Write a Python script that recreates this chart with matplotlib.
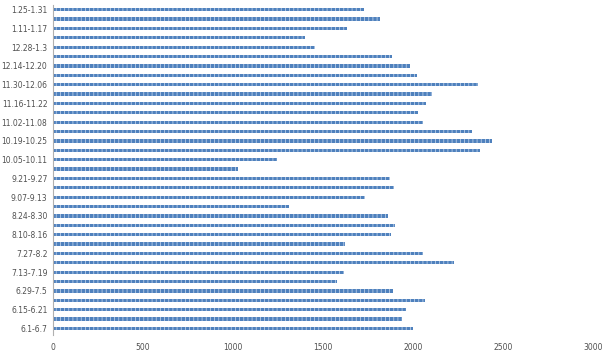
import matplotlib
matplotlib.use('Agg')
import matplotlib.pyplot as plt
import numpy as np

# weekly periods, bottom to top
weeks = ['6.1-6.7', '6.8-6.14', '6.15-6.21', '6.22-6.28', '6.29-7.5',
         '7.6-7.12', '7.13-7.19', '7.20-7.26', '7.27-8.2', '8.3-8.9',
         '8.10-8.16', '8.17-8.23', '8.24-8.30', '8.31-9.06', '9.07-9.13',
         '9.14-9.20', '9.21-9.27', '9.28-10.04', '10.05-10.11', '10.12-10.18',
         '10.19-10.25', '10.26-11.01', '11.02-11.08', '11.09-11.15', '11.16-11.22',
         '11.23-11.29', '11.30-12.06', '12.07-12.13', '12.14-12.20', '12.21-12.27',
         '12.28-1.3', '1.4-1.10', '1.11-1.17', '1.18-1.24', '1.25-1.31']

values = [2000, 1939, 1961, 2067, 1889,
          1577, 1616, 2228, 2056, 1621,
          1877, 1900, 1861, 1309, 1733,
          1894, 1872, 1025, 1242, 2373,
          2440, 2329, 2056, 2028, 2072,
          2106, 2360, 2022, 1983, 1883,
          1454, 1398, 1632, 1816, 1727]

x_ticks = [0, 500, 1000, 1500, 2000, 2500, 3000]

plt.rcParams['hatch.linewidth'] = 0.6

fig = plt.figure(figsize=(6.04, 3.56), dpi=100)
ax = fig.add_axes([53 / 604, 1 - 335 / 356, 540 / 604, 330 / 356])

y = np.arange(len(weeks))
ax.barh(y, values, height=0.34, color='#4f81bd', edgecolor='#b8cde8',
        hatch='||||', linewidth=0)

ax.set_xlim(0, 3000)
ax.set_ylim(-0.7, len(weeks) - 0.5)
ax.set_xticks(x_ticks)
ax.set_xticklabels([str(t) for t in x_ticks])
ax.set_yticks(y[::2])
ax.set_yticklabels(weeks[::2])

for s in ['top', 'right', 'bottom']:
    ax.spines[s].set_visible(False)
ax.spines['left'].set_color('#b0b0b0')
ax.spines['left'].set_linewidth(0.8)

ax.tick_params(axis='both', length=0, labelsize=5.5, colors='#505050')
ax.tick_params(axis='x', pad=6)
ax.tick_params(axis='y', pad=4)

fig.savefig('out.png', dpi=100)
